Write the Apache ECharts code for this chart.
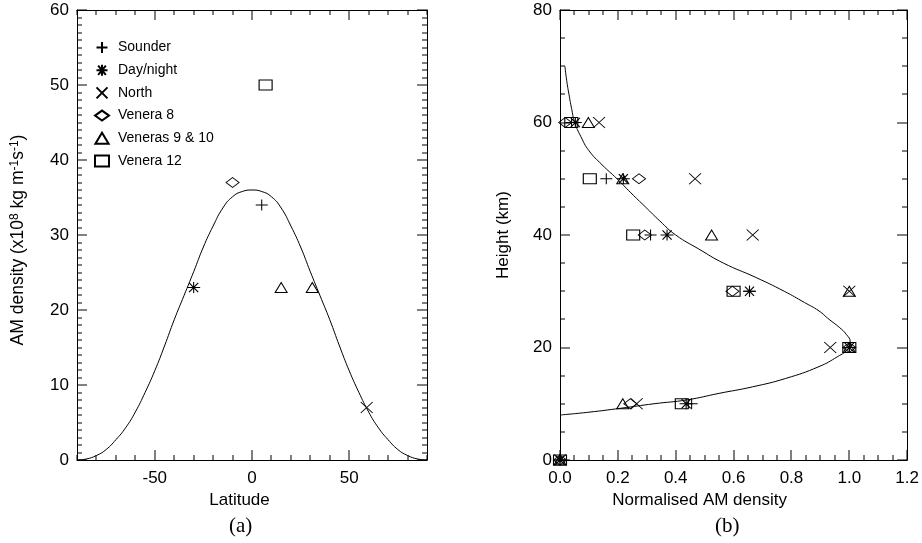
<!DOCTYPE html>
<html>
<head>
<meta charset="utf-8">
<script src="https://cdn.jsdelivr.net/npm/echarts@6/dist/echarts.min.js"></script>
<style>
  html, body { margin: 0; padding: 0; background: #fff; }
  #chart { width: 922px; height: 543px; }
</style>
</head>
<body>
<div id="chart"></div>
<script>
// ---- Panel (a): AM density against latitude ----
const seriesNames = ['Sounder', 'Day/night', 'North', 'Venera 8', 'Veneras 9 & 10', 'Venera 12'];

const sounderA = [[5, 34]];
const dayNightA = [[-30, 23]];
const northA = [[59, 7]];
const venera8A = [[-10, 37]];
const veneras910A = [[15, 23], [31, 23]];
const venera12A = [[7, 50]];

// fitted latitude profile
const curveLat = [-90, -85, -80, -75, -70, -65, -60, -55, -50, -45, -40, -35, -30, -25, -20, -15, -10, -5, 0,
                  5, 10, 15, 20, 25, 30, 35, 40, 45, 50, 55, 60, 65, 70, 75, 80, 85, 90];
const curveAM = [0, 0.15, 0.6, 1.4, 2.7, 4.3, 6.4, 9.0, 11.9, 15.2, 18.7, 21.9, 25.1, 28.4, 31.2, 33.6, 35.1, 35.8, 36.0,
                 35.8, 35.1, 33.6, 31.2, 28.4, 25.1, 21.9, 18.7, 15.2, 11.9, 9.0, 6.4, 4.3, 2.7, 1.4, 0.6, 0.15, 0];

const latTickLabels = [-50, 0, 50];

// ---- Panel (b): normalised AM density against height ----
const heightsB = [0, 10, 20, 30, 40, 50, 60];
const sounderB = [0, 0.455, 1.0, 0.655, 0.313, 0.16, 0.04];
const dayNightB = [0, 0.436, 1.0, 0.655, 0.37, 0.219, 0.053];
const northB = [0, 0.265, 0.934, 1.0, 0.666, 0.467, 0.135];
const venera8B = [0, 0.243, 1.0, 0.596, 0.293, 0.273, 0.018];
const veneras910B = [0, 0.217, 1.0, 1.0, 0.524, 0.217, 0.098];
const venera12B = [0, 0.421, 1.0, 0.6, 0.253, 0.103, 0.039];

// fitted vertical profile (density, height)
const profileDensity = [0.0, 0.10, 0.21, 0.325, 0.44, 0.55, 0.665, 0.78, 0.895, 0.96, 0.995, 1.003, 0.99, 0.965,
                        0.93, 0.895, 0.845, 0.775, 0.675, 0.565, 0.48, 0.40, 0.345, 0.295, 0.245, 0.197,
                        0.145, 0.10, 0.072, 0.051, 0.04, 0.031, 0.023, 0.017];
const profileHeight = [8.0, 8.5, 9.2, 10.0, 10.7, 11.85, 13.0, 14.5, 16.6, 18.4, 19.7, 21.0, 22.3, 23.6,
                       25, 26.5, 28, 30, 32.5, 35, 37.5, 40, 42.5, 45, 47.5, 50,
                       52.5, 55, 57.5, 60, 62.5, 65, 67.5, 70];

// ---- marker shapes (outline only) ----
const markers = [
  { symbol: 'path://M0,5L10,5M5,0L5,10', size: [12, 11] },                               // plus
  { symbol: 'path://M0,5L10,5M5,0L5,10M1.5,0.8L8.5,9.2M1.5,9.2L8.5,0.8', size: [13, 11] }, // asterisk
  { symbol: 'path://M0,0L10,10M0,10L10,0', size: [12, 11] },                               // cross
  { symbol: 'path://M0,5L7,0L14,5L7,10Z', size: [13, 10] },                                // diamond
  { symbol: 'path://M0,10L6,0L12,10Z', size: [12, 10] },                                   // triangle
  { symbol: 'path://M0,0L13,0L13,10L0,10Z', size: [13, 10] }                               // square
];

const FONT = 'Liberation Sans, Arial, Helvetica, sans-serif';
const BLACK = '#000';

function zip(xs, ys) { return xs.map((x, i) => [x, ys[i]]); }
function steps(from, to, step) {
  const out = [];
  const n = Math.round((to - from) / step);
  for (let i = 0; i <= n; i++) out.push(+(from + i * step).toFixed(6));
  return out;
}

const dataA = [sounderA, dayNightA, northA, venera8A, veneras910A, venera12A];
const dataB = [sounderB, dayNightB, northB, venera8B, veneras910B, venera12B].map(v => zip(v, heightsB));

function scatter(name, i, data, xi, yi) {
  return {
    type: 'scatter', name, data,
    xAxisIndex: xi, yAxisIndex: yi,
    symbol: markers[i].symbol, symbolSize: markers[i].size,
    itemStyle: { color: 'transparent', borderColor: BLACK, borderWidth: 1, opacity: 1 },
    emphasis: { disabled: true },
    clip: false, z: 3
  };
}

const stroke = () => ({ color: BLACK, width: 1 });

// frame axes: line + labels; the inward tick marks are added afterwards
function frameAxis(grid, position, min, max, interval, extra) {
  return Object.assign({
    type: 'value', gridIndex: grid, position, min, max, interval,
    axisLine: { show: true, onZero: false, lineStyle: stroke() },
    axisTick: { show: false },
    splitLine: { show: false },
    axisLabel: { show: false }
  }, extra || {});
}

const xAxes = [
  frameAxis(0, 'bottom', -90, 90, 10, {
    axisLabel: { show: true, fontSize: 17, fontFamily: FONT, color: BLACK, margin: 10,
      formatter: v => (latTickLabels.indexOf(v) >= 0 ? String(v) : '') },
    name: 'Latitude', nameLocation: 'middle', nameGap: 28,
    nameTextStyle: { fontSize: 17, fontFamily: FONT, color: BLACK, padding: [0, 25, 0, 0] }
  }),
  frameAxis(0, 'top', -90, 90, 10),
  frameAxis(1, 'bottom', 0, 1.2, 0.2, {
    axisLabel: { show: true, fontSize: 17, fontFamily: FONT, color: BLACK, margin: 10, formatter: v => v.toFixed(1) },
    name: 'Normalised AM density', nameLocation: 'middle', nameGap: 28,
    nameTextStyle: { fontSize: 17, fontFamily: FONT, color: BLACK, padding: [0, 68, 0, 0] }
  }),
  frameAxis(1, 'top', 0, 1.2, 0.2)
];
const yAxes = [
  frameAxis(0, 'left', 0, 60, 10, {
    axisLabel: { show: true, fontSize: 17, fontFamily: FONT, color: BLACK, margin: 8 },
    name: 'AM density (x10{s|8} kg m{s|-1}s{s|-1})', nameLocation: 'middle', nameGap: 50,
    nameTextStyle: { fontSize: 17.5, fontFamily: FONT, color: BLACK, padding: [0, 10, 0, 0],
      rich: { s: { fontSize: 12, fontFamily: FONT, color: BLACK, verticalAlign: 'top' } } }
  }),
  frameAxis(0, 'right', 0, 60, 10),
  frameAxis(1, 'left', 0, 80, 20, {
    axisLabel: { show: true, fontSize: 17, fontFamily: FONT, color: BLACK, margin: 8 },
    name: 'Height (km)', nameLocation: 'middle', nameGap: 48,
    nameTextStyle: { fontSize: 17, fontFamily: FONT, color: BLACK }
  }),
  frameAxis(1, 'right', 0, 80, 20)
];

const series = [
  {
    type: 'line', name: 'fitA', data: zip(curveLat, curveAM),
    xAxisIndex: 0, yAxisIndex: 0, showSymbol: false, smooth: 0.5,
    lineStyle: stroke(), silent: true, z: 2
  },
  {
    type: 'line', name: 'fitB', data: zip(profileDensity, profileHeight),
    xAxisIndex: 2, yAxisIndex: 2, showSymbol: false, smooth: 0.5,
    lineStyle: stroke(), silent: true, z: 2
  }
];
seriesNames.forEach((n, i) => series.push(scatter(n, i, dataA[i], 0, 0)));
seriesNames.forEach((n, i) => series.push(scatter(n, i, dataB[i], 2, 2)));

const panelCaptions = [
  { type: 'text', left: 229, top: 516, style: { text: '(a)', font: '21px "Liberation Serif", "Times New Roman", serif', fill: BLACK } },
  { type: 'text', left: 715, top: 516, style: { text: '(b)', font: '21px "Liberation Serif", "Times New Roman", serif', fill: BLACK } }
];

const option = {
  animation: false,
  backgroundColor: '#fff',
  grid: [
    { left: 77, top: 10, width: 350, height: 450 },
    { left: 560, top: 10, width: 351, height: 450 }
  ],
  xAxis: xAxes,
  yAxis: yAxes,
  legend: {
    data: seriesNames, orient: 'vertical', left: 89, top: 35.5,
    itemWidth: 14, itemHeight: 11, itemGap: 8.7,
    selectedMode: false,
    textStyle: { fontSize: 14, fontFamily: FONT, color: BLACK, padding: [0, 0, 0, 4] }
  },
  graphic: panelCaptions,
  series
};

const chart = echarts.init(document.getElementById('chart'), null, { renderer: 'canvas' });
chart.setOption(option);

// ---- inward tick marks on all four sides, placed through each panel's axes ----
const MAJOR_LEN = 10, MINOR_LEN = 5;
const near = (list, v) => list.some(m => Math.abs(m - v) < 1e-9);

// ticks are thin filled bars, 1px across, growing from the frame into the plot
function frameTickBars(xi, yi, xTicks, xMajor, yTicks, yMajor, xMin, xMax, yMin, yMax) {
  const bars = [];
  const finder = { xAxisIndex: xi, yAxisIndex: yi };
  function add(pt, side, major) {
    const p = chart.convertToPixel(finder, pt);
    if (!p || !isFinite(p[0]) || !isFinite(p[1])) return;
    const len = major ? MAJOR_LEN : MINOR_LEN;
    const x = Math.round(p[0]), y = Math.round(p[1]);
    let shape;
    if (side === 'bottom') shape = { x: x - 0.5, y: y - len, width: 1, height: len };
    else if (side === 'top') shape = { x: x - 0.5, y: y, width: 1, height: len };
    else if (side === 'left') shape = { x: x, y: y - 0.5, width: len, height: 1 };
    else shape = { x: x - len, y: y - 0.5, width: len, height: 1 };
    bars.push({ type: 'rect', silent: true, z: 100, shape, style: { fill: BLACK } });
  }
  xTicks.forEach(v => {
    const m = near(xMajor, v);
    add([v, yMin], 'bottom', m);
    add([v, yMax], 'top', m);
  });
  yTicks.forEach(v => {
    const m = near(yMajor, v);
    add([xMin, v], 'left', m);
    add([xMax, v], 'right', m);
  });
  return bars;
}

try {
  const tickBars = []
    .concat(frameTickBars(0, 0, steps(-90, 90, 10), latTickLabels, steps(0, 60, 1), steps(0, 60, 10), -90, 90, 0, 60))
    .concat(frameTickBars(2, 2, steps(0, 1.2, 0.05), steps(0, 1.2, 0.2), steps(0, 80, 5), steps(0, 80, 20), 0, 1.2, 0, 80));
  chart.setOption({ graphic: panelCaptions.concat(tickBars) });
} catch (e) {
  console.error(e);
}
</script>
</body>
</html>
